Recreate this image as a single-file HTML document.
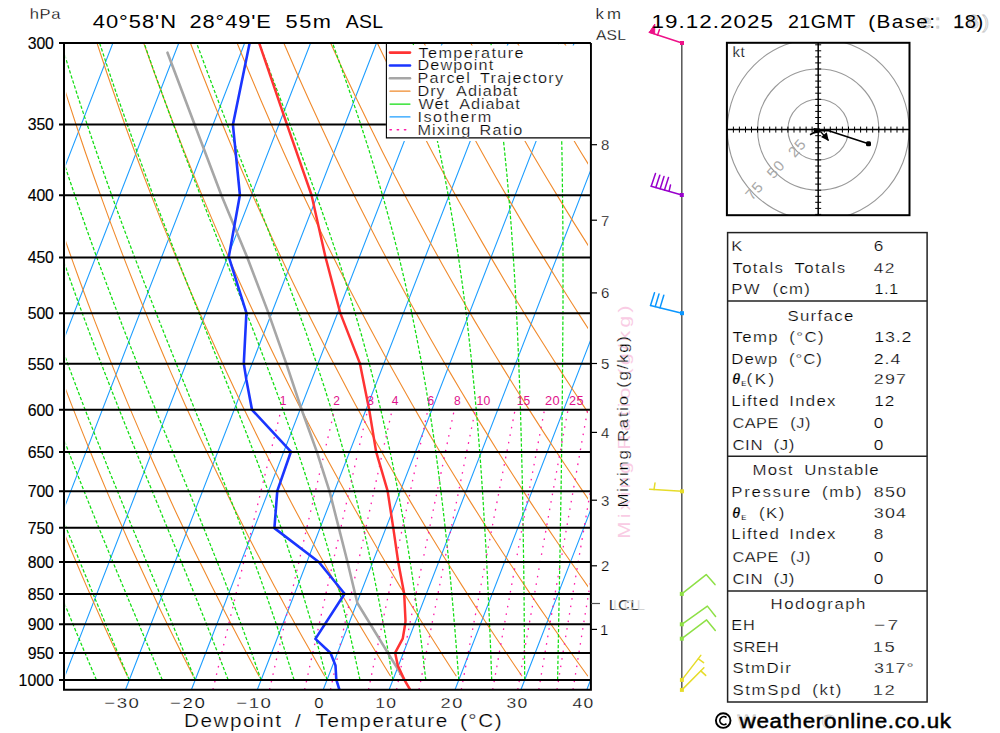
<!DOCTYPE html>
<html><head><meta charset="utf-8"><style>
html,body{margin:0;padding:0;background:#fff;width:1000px;height:733px;overflow:hidden}
svg{display:block}
text{font-family:"Liberation Sans",sans-serif;stroke:#fff;stroke-width:0.25px}
text.b{stroke:#000;stroke-width:0.15px}
text.n{stroke:none}
text.c{stroke:#000;stroke-width:0.45px}
text.g{stroke:#c6c6c6;stroke-width:0.8px}
</style></head><body>
<svg width="1000" height="733" viewBox="0 0 1000 733">
<defs><clipPath id="hc"><rect x="727" y="43" width="182.5" height="172.2"/></clipPath></defs>
<defs><clipPath id="pc"><rect x="64.0" y="43.0" width="526.9" height="646.7"/></clipPath>
<clipPath id="pd"><rect x="66.2" y="43.0" width="521.8" height="646.7"/></clipPath>
<clipPath id="pb"><rect x="65.8" y="43.0" width="525.1" height="646.7"/></clipPath></defs>
<g clip-path="url(#pb)">
<path d="M-335.8,689.7 L-84.8,43.0 M-269.9,689.7 L-18.9,43.0 M-204.0,689.7 L47.0,43.0 M-138.1,689.7 L112.9,43.0 M-72.2,689.7 L178.8,43.0 M-6.3,689.7 L244.7,43.0 M59.6,689.7 L310.6,43.0 M125.5,689.7 L376.5,43.0 M191.4,689.7 L442.4,43.0 M257.3,689.7 L508.3,43.0 M323.2,689.7 L574.2,43.0 M389.1,689.7 L640.1,43.0 M455.0,689.7 L706.0,43.0 M520.9,689.7 L771.9,43.0 M586.8,689.7 L837.8,43.0 M652.7,689.7 L903.7,43.0" stroke="#1e9eff" stroke-width="1.1" fill="none"/>
<g clip-path="url(#pd)"><path d="M-69.8,676.3 L-73.2,667.0 L-76.6,657.5 L-80.1,647.8 L-83.6,638.0 L-87.1,628.0 L-90.7,617.8 L-94.2,607.4 L-97.8,596.7 L-101.5,585.9 L-105.1,574.8 L-108.8,563.5 L-112.5,552.0 L-116.3,540.2 L-120.1,528.1 L-123.9,515.8 L-127.7,503.1 L-131.6,490.1 L-135.5,476.8 L-139.5,463.2 L-143.4,449.2 L-147.4,434.9 L-151.5,420.1 L-155.6,404.9 L-159.7,389.2 L-163.8,373.1 L-168.0,356.5 L-172.3,339.3 L-176.5,321.6 L-180.8,303.2 L-185.1,284.2 L-189.5,264.4 L-193.9,243.9 L-198.3,222.6 L-202.8,200.4 L-207.3,177.2 L-211.8,153.0 L-216.4,127.5 L-220.9,100.8 L-225.5,72.7 L-230.1,43.0 M-4.0,676.3 L-7.8,667.0 L-11.5,657.5 L-15.3,647.8 L-19.2,638.0 L-23.0,628.0 L-26.9,617.8 L-30.9,607.4 L-34.8,596.7 L-38.8,585.9 L-42.9,574.8 L-46.9,563.5 L-51.0,552.0 L-55.2,540.2 L-59.4,528.1 L-63.6,515.8 L-67.8,503.1 L-72.1,490.1 L-76.5,476.8 L-80.8,463.2 L-85.3,449.2 L-89.7,434.9 L-94.2,420.1 L-98.8,404.9 L-103.4,389.2 L-108.0,373.1 L-112.7,356.5 L-117.4,339.3 L-122.2,321.6 L-127.0,303.2 L-131.9,284.2 L-136.8,264.4 L-141.8,243.9 L-146.9,222.6 L-151.9,200.4 L-157.1,177.2 L-162.2,153.0 L-167.5,127.5 L-172.7,100.8 L-178.0,72.7 L-183.4,43.0 M61.8,676.3 L57.7,667.0 L53.6,657.5 L49.4,647.8 L45.2,638.0 L41.0,628.0 L36.8,617.8 L32.5,607.4 L28.2,596.7 L23.8,585.9 L19.4,574.8 L14.9,563.5 L10.4,552.0 L5.9,540.2 L1.3,528.1 L-3.3,515.8 L-7.9,503.1 L-12.7,490.1 L-17.4,476.8 L-22.2,463.2 L-27.1,449.2 L-32.0,434.9 L-37.0,420.1 L-42.0,404.9 L-47.0,389.2 L-52.2,373.1 L-57.4,356.5 L-62.6,339.3 L-67.9,321.6 L-73.3,303.2 L-78.7,284.2 L-84.2,264.4 L-89.8,243.9 L-95.4,222.6 L-101.1,200.4 L-106.8,177.2 L-112.7,153.0 L-118.6,127.5 L-124.5,100.8 L-130.5,72.7 L-136.6,43.0 M127.5,676.3 L123.1,667.0 L118.7,657.5 L114.2,647.8 L109.7,638.0 L105.1,628.0 L100.5,617.8 L95.9,607.4 L91.2,596.7 L86.4,585.9 L81.6,574.8 L76.8,563.5 L71.9,552.0 L67.0,540.2 L62.1,528.1 L57.0,515.8 L52.0,503.1 L46.8,490.1 L41.6,476.8 L36.4,463.2 L31.1,449.2 L25.7,434.9 L20.3,420.1 L14.8,404.9 L9.3,389.2 L3.7,373.1 L-2.0,356.5 L-7.8,339.3 L-13.6,321.6 L-19.5,303.2 L-25.5,284.2 L-31.5,264.4 L-37.7,243.9 L-43.9,222.6 L-50.2,200.4 L-56.6,177.2 L-63.1,153.0 L-69.7,127.5 L-76.3,100.8 L-83.1,72.7 L-89.9,43.0 M193.3,676.3 L188.6,667.0 L183.8,657.5 L179.0,647.8 L174.1,638.0 L169.2,628.0 L164.2,617.8 L159.2,607.4 L154.2,596.7 L149.1,585.9 L143.9,574.8 L138.7,563.5 L133.4,552.0 L128.1,540.2 L122.8,528.1 L117.3,515.8 L111.9,503.1 L106.3,490.1 L100.7,476.8 L95.0,463.2 L89.3,449.2 L83.5,434.9 L77.6,420.1 L71.6,404.9 L65.6,389.2 L59.5,373.1 L53.3,356.5 L47.1,339.3 L40.7,321.6 L34.3,303.2 L27.7,284.2 L21.1,264.4 L14.4,243.9 L7.6,222.6 L0.7,200.4 L-6.4,177.2 L-13.5,153.0 L-20.8,127.5 L-28.1,100.8 L-35.6,72.7 L-43.2,43.0 M259.1,676.3 L254.0,667.0 L248.9,657.5 L243.7,647.8 L238.5,638.0 L233.3,628.0 L227.9,617.8 L222.6,607.4 L217.2,596.7 L211.7,585.9 L206.2,574.8 L200.6,563.5 L194.9,552.0 L189.2,540.2 L183.5,528.1 L177.6,515.8 L171.7,503.1 L165.8,490.1 L159.7,476.8 L153.6,463.2 L147.5,449.2 L141.2,434.9 L134.9,420.1 L128.4,404.9 L121.9,389.2 L115.3,373.1 L108.7,356.5 L101.9,339.3 L95.0,321.6 L88.0,303.2 L81.0,284.2 L73.8,264.4 L66.5,243.9 L59.1,222.6 L51.5,200.4 L43.9,177.2 L36.1,153.0 L28.1,127.5 L20.1,100.8 L11.9,72.7 L3.5,43.0 M324.8,676.3 L319.4,667.0 L314.0,657.5 L308.5,647.8 L302.9,638.0 L297.3,628.0 L291.7,617.8 L285.9,607.4 L280.2,596.7 L274.3,585.9 L268.4,574.8 L262.5,563.5 L256.4,552.0 L250.3,540.2 L244.2,528.1 L238.0,515.8 L231.6,503.1 L225.3,490.1 L218.8,476.8 L212.3,463.2 L205.6,449.2 L198.9,434.9 L192.1,420.1 L185.2,404.9 L178.3,389.2 L171.2,373.1 L164.0,356.5 L156.7,339.3 L149.3,321.6 L141.8,303.2 L134.2,284.2 L126.4,264.4 L118.5,243.9 L110.5,222.6 L102.4,200.4 L94.1,177.2 L85.6,153.0 L77.0,127.5 L68.3,100.8 L59.4,72.7 L50.2,43.0 M390.6,676.3 L384.9,667.0 L379.1,657.5 L373.3,647.8 L367.4,638.0 L361.4,628.0 L355.4,617.8 L349.3,607.4 L343.2,596.7 L337.0,585.9 L330.7,574.8 L324.4,563.5 L317.9,552.0 L311.5,540.2 L304.9,528.1 L298.3,515.8 L291.5,503.1 L284.7,490.1 L277.9,476.8 L270.9,463.2 L263.8,449.2 L256.7,434.9 L249.4,420.1 L242.0,404.9 L234.6,389.2 L227.0,373.1 L219.3,356.5 L211.5,339.3 L203.6,321.6 L195.6,303.2 L187.4,284.2 L179.1,264.4 L170.6,243.9 L162.0,222.6 L153.2,200.4 L144.3,177.2 L135.2,153.0 L125.9,127.5 L116.5,100.8 L106.8,72.7 L97.0,43.0 M456.4,676.3 L450.3,667.0 L444.2,657.5 L438.0,647.8 L431.8,638.0 L425.5,628.0 L419.1,617.8 L412.7,607.4 L406.2,596.7 L399.6,585.9 L393.0,574.8 L386.2,563.5 L379.4,552.0 L372.6,540.2 L365.6,528.1 L358.6,515.8 L351.4,503.1 L344.2,490.1 L336.9,476.8 L329.5,463.2 L322.0,449.2 L314.4,434.9 L306.7,420.1 L298.8,404.9 L290.9,389.2 L282.8,373.1 L274.7,356.5 L266.4,339.3 L257.9,321.6 L249.3,303.2 L240.6,284.2 L231.7,264.4 L222.7,243.9 L213.5,222.6 L204.1,200.4 L194.6,177.2 L184.8,153.0 L174.9,127.5 L164.7,100.8 L154.3,72.7 L143.7,43.0 M522.1,676.3 L515.7,667.0 L509.3,657.5 L502.8,647.8 L496.2,638.0 L489.6,628.0 L482.8,617.8 L476.0,607.4 L469.2,596.7 L462.2,585.9 L455.2,574.8 L448.1,563.5 L440.9,552.0 L433.7,540.2 L426.3,528.1 L418.9,515.8 L411.3,503.1 L403.7,490.1 L396.0,476.8 L388.1,463.2 L380.2,449.2 L372.1,434.9 L363.9,420.1 L355.6,404.9 L347.2,389.2 L338.7,373.1 L330.0,356.5 L321.2,339.3 L312.2,321.6 L303.1,303.2 L293.8,284.2 L284.4,264.4 L274.8,243.9 L265.0,222.6 L255.0,200.4 L244.8,177.2 L234.4,153.0 L223.8,127.5 L212.9,100.8 L201.8,72.7 L190.4,43.0 M587.9,676.3 L581.2,667.0 L574.4,657.5 L567.5,647.8 L560.6,638.0 L553.6,628.0 L546.6,617.8 L539.4,607.4 L532.2,596.7 L524.9,585.9 L517.5,574.8 L510.0,563.5 L502.4,552.0 L494.8,540.2 L487.0,528.1 L479.2,515.8 L471.2,503.1 L463.2,490.1 L455.0,476.8 L446.7,463.2 L438.4,449.2 L429.8,434.9 L421.2,420.1 L412.5,404.9 L403.6,389.2 L394.5,373.1 L385.3,356.5 L376.0,339.3 L366.5,321.6 L356.9,303.2 L347.0,284.2 L337.0,264.4 L326.8,243.9 L316.4,222.6 L305.8,200.4 L295.0,177.2 L284.0,153.0 L272.7,127.5 L261.1,100.8 L249.3,72.7 L237.1,43.0 M653.7,676.3 L646.6,667.0 L639.5,657.5 L632.3,647.8 L625.0,638.0 L617.7,628.0 L610.3,617.8 L602.8,607.4 L595.2,596.7 L587.5,585.9 L579.7,574.8 L571.9,563.5 L563.9,552.0 L555.9,540.2 L547.7,528.1 L539.5,515.8 L531.1,503.1 L522.7,490.1 L514.1,476.8 L505.4,463.2 L496.5,449.2 L487.6,434.9 L478.5,420.1 L469.3,404.9 L459.9,389.2 L450.4,373.1 L440.7,356.5 L430.8,339.3 L420.8,321.6 L410.6,303.2 L400.3,284.2 L389.7,264.4 L378.9,243.9 L367.9,222.6 L356.7,200.4 L345.2,177.2 L333.5,153.0 L321.6,127.5 L309.3,100.8 L296.7,72.7 L283.8,43.0 M719.4,676.3 L712.1,667.0 L704.6,657.5 L697.1,647.8 L689.5,638.0 L681.8,628.0 L674.0,617.8 L666.1,607.4 L658.2,596.7 L650.1,585.9 L642.0,574.8 L633.8,563.5 L625.4,552.0 L617.0,540.2 L608.4,528.1 L599.8,515.8 L591.0,503.1 L582.1,490.1 L573.1,476.8 L564.0,463.2 L554.7,449.2 L545.3,434.9 L535.8,420.1 L526.1,404.9 L516.2,389.2 L506.2,373.1 L496.0,356.5 L485.7,339.3 L475.1,321.6 L464.4,303.2 L453.5,284.2 L442.3,264.4 L431.0,243.9 L419.4,222.6 L407.6,200.4 L395.5,177.2 L383.1,153.0 L370.5,127.5 L357.5,100.8 L344.2,72.7 L330.6,43.0 M785.2,676.3 L777.5,667.0 L769.7,657.5 L761.8,647.8 L753.9,638.0 L745.9,628.0 L737.7,617.8 L729.5,607.4 L721.2,596.7 L712.8,585.9 L704.3,574.8 L695.7,563.5 L686.9,552.0 L678.1,540.2 L669.2,528.1 L660.1,515.8 L650.9,503.1 L641.6,490.1 L632.2,476.8 L622.6,463.2 L612.9,449.2 L603.0,434.9 L593.0,420.1 L582.9,404.9 L572.5,389.2 L562.0,373.1 L551.4,356.5 L540.5,339.3 L529.4,321.6 L518.2,303.2 L506.7,284.2 L495.0,264.4 L483.1,243.9 L470.9,222.6 L458.4,200.4 L445.7,177.2 L432.7,153.0 L419.4,127.5 L405.7,100.8 L391.7,72.7 L377.3,43.0 M851.0,676.3 L842.9,667.0 L834.8,657.5 L826.6,647.8 L818.3,638.0 L809.9,628.0 L801.4,617.8 L792.9,607.4 L784.2,596.7 L775.4,585.9 L766.5,574.8 L757.5,563.5 L748.4,552.0 L739.2,540.2 L729.9,528.1 L720.4,515.8 L710.8,503.1 L701.1,490.1 L691.2,476.8 L681.2,463.2 L671.1,449.2 L660.8,434.9 L650.3,420.1 L639.7,404.9 L628.9,389.2 L617.9,373.1 L606.7,356.5 L595.3,339.3 L583.7,321.6 L571.9,303.2 L559.9,284.2 L547.7,264.4 L535.1,243.9 L522.4,222.6 L509.3,200.4 L495.9,177.2 L482.3,153.0 L468.3,127.5 L453.9,100.8 L439.2,72.7 L424.0,43.0 M916.7,676.3 L908.4,667.0 L899.9,657.5 L891.4,647.8 L882.7,638.0 L874.0,628.0 L865.2,617.8 L856.2,607.4 L847.2,596.7 L838.1,585.9 L828.8,574.8 L819.4,563.5 L809.9,552.0 L800.3,540.2 L790.6,528.1 L780.7,515.8 L770.7,503.1 L760.6,490.1 L750.3,476.8 L739.8,463.2 L729.2,449.2 L718.5,434.9 L707.6,420.1 L696.5,404.9 L685.2,389.2 L673.7,373.1 L662.0,356.5 L650.1,339.3 L638.0,321.6 L625.7,303.2 L613.1,284.2 L600.3,264.4 L587.2,243.9 L573.8,222.6 L560.2,200.4 L546.2,177.2 L531.8,153.0 L517.2,127.5 L502.1,100.8 L486.6,72.7 L470.7,43.0 M982.5,676.3 L973.8,667.0 L965.0,657.5 L956.1,647.8 L947.2,638.0 L938.1,628.0 L928.9,617.8 L919.6,607.4 L910.2,596.7 L900.7,585.9 L891.1,574.8 L881.3,563.5 L871.4,552.0 L861.4,540.2 L851.3,528.1 L841.0,515.8 L830.6,503.1 L820.0,490.1 L809.3,476.8 L798.5,463.2 L787.4,449.2 L776.2,434.9 L764.8,420.1 L753.3,404.9 L741.5,389.2 L729.5,373.1 L717.4,356.5 L705.0,339.3 L692.3,321.6 L679.5,303.2 L666.4,284.2 L653.0,264.4 L639.3,243.9 L625.3,222.6 L611.0,200.4 L596.4,177.2 L581.4,153.0 L566.1,127.5 L550.3,100.8 L534.1,72.7 L517.4,43.0 M1048.3,676.3 L1039.3,667.0 L1030.1,657.5 L1020.9,647.8 L1011.6,638.0 L1002.2,628.0 L992.6,617.8 L983.0,607.4 L973.2,596.7 L963.3,585.9 L953.3,574.8 L943.2,563.5 L932.9,552.0 L922.5,540.2 L912.0,528.1 L901.3,515.8 L890.5,503.1 L879.5,490.1 L868.4,476.8 L857.1,463.2 L845.6,449.2 L833.9,434.9 L822.1,420.1 L810.1,404.9 L797.8,389.2 L785.4,373.1 L772.7,356.5 L759.8,339.3 L746.6,321.6 L733.2,303.2 L719.6,284.2 L705.6,264.4 L691.4,243.9 L676.8,222.6 L661.9,200.4 L646.6,177.2 L631.0,153.0 L615.0,127.5 L598.5,100.8 L581.6,72.7 L564.2,43.0 M1114.0,676.3 L1104.7,667.0 L1095.2,657.5 L1085.7,647.8 L1076.0,638.0 L1066.2,628.0 L1056.3,617.8 L1046.3,607.4 L1036.2,596.7 L1026.0,585.9 L1015.6,574.8 L1005.1,563.5 L994.4,552.0 L983.6,540.2 L972.7,528.1 L961.6,515.8 L950.4,503.1 L939.0,490.1 L927.4,476.8 L915.7,463.2 L903.8,449.2 L891.7,434.9 L879.4,420.1 L866.9,404.9 L854.2,389.2 L841.2,373.1 L828.0,356.5 L814.6,339.3 L800.9,321.6 L787.0,303.2 L772.8,284.2 L758.3,264.4 L743.4,243.9 L728.3,222.6 L712.8,200.4 L696.9,177.2 L680.6,153.0 L663.9,127.5 L646.7,100.8 L629.1,72.7 L610.9,43.0 M1179.8,676.3 L1170.1,667.0 L1160.3,657.5 L1150.4,647.8 L1140.4,638.0 L1130.3,628.0 L1120.1,617.8 L1109.7,607.4 L1099.2,596.7 L1088.6,585.9 L1077.8,574.8 L1067.0,563.5 L1055.9,552.0 L1044.8,540.2 L1033.4,528.1 L1021.9,515.8 L1010.3,503.1 L998.5,490.1 L986.5,476.8 L974.3,463.2 L962.0,449.2 L949.4,434.9 L936.6,420.1 L923.7,404.9 L910.5,389.2 L897.0,373.1 L883.4,356.5 L869.4,339.3 L855.3,321.6 L840.8,303.2 L826.0,284.2 L810.9,264.4 L795.5,243.9 L779.7,222.6 L763.6,200.4 L747.1,177.2 L730.2,153.0 L712.8,127.5 L694.9,100.8 L676.5,72.7 L657.6,43.0 M1245.6,676.3 L1235.6,667.0 L1225.4,657.5 L1215.2,647.8 L1204.9,638.0 L1194.4,628.0 L1183.8,617.8 L1173.1,607.4 L1162.2,596.7 L1151.2,585.9 L1140.1,574.8 L1128.8,563.5 L1117.4,552.0 L1105.9,540.2 L1094.1,528.1 L1082.2,515.8 L1070.2,503.1 L1058.0,490.1 L1045.5,476.8 L1032.9,463.2 L1020.1,449.2 L1007.1,434.9 L993.9,420.1 L980.5,404.9 L966.8,389.2 L952.9,373.1 L938.7,356.5 L924.3,339.3 L909.6,321.6 L894.5,303.2 L879.2,284.2 L863.6,264.4 L847.6,243.9 L831.2,222.6 L814.5,200.4 L797.3,177.2 L779.7,153.0 L761.7,127.5 L743.1,100.8 L724.0,72.7 L704.3,43.0 M1311.4,676.3 L1301.0,667.0 L1290.5,657.5 L1280.0,647.8 L1269.3,638.0 L1258.5,628.0 L1247.5,617.8 L1236.4,607.4 L1225.2,596.7 L1213.9,585.9 L1202.4,574.8 L1190.7,563.5 L1178.9,552.0 L1167.0,540.2 L1154.8,528.1 L1142.6,515.8 L1130.1,503.1 L1117.4,490.1 L1104.6,476.8 L1091.6,463.2 L1078.3,449.2 L1064.9,434.9 L1051.2,420.1 L1037.3,404.9 L1023.1,389.2 L1008.7,373.1 L994.0,356.5 L979.1,339.3 L963.9,321.6 L948.3,303.2 L932.4,284.2 L916.2,264.4 L899.7,243.9 L882.7,222.6 L865.3,200.4 L847.6,177.2 L829.3,153.0 L810.6,127.5 L791.3,100.8 L771.5,72.7 L751.0,43.0 M1377.1,676.3 L1366.4,667.0 L1355.6,657.5 L1344.7,647.8 L1333.7,638.0 L1322.5,628.0 L1311.2,617.8 L1299.8,607.4 L1288.2,596.7 L1276.5,585.9 L1264.6,574.8 L1252.6,563.5 L1240.4,552.0 L1228.1,540.2 L1215.6,528.1 L1202.9,515.8 L1190.0,503.1 L1176.9,490.1 L1163.7,476.8 L1150.2,463.2 L1136.5,449.2 L1122.6,434.9 L1108.5,420.1 L1094.1,404.9 L1079.4,389.2 L1064.6,373.1 L1049.4,356.5 L1033.9,339.3 L1018.2,321.6 L1002.1,303.2 L985.7,284.2 L968.9,264.4 L951.7,243.9 L934.2,222.6 L916.2,200.4 L897.8,177.2 L878.9,153.0 L859.5,127.5 L839.5,100.8 L819.0,72.7 L797.8,43.0 M1442.9,676.3 L1431.9,667.0 L1420.8,657.5 L1409.5,647.8 L1398.1,638.0 L1386.6,628.0 L1375.0,617.8 L1363.2,607.4 L1351.2,596.7 L1339.1,585.9 L1326.9,574.8 L1314.5,563.5 L1301.9,552.0 L1289.2,540.2 L1276.3,528.1 L1263.2,515.8 L1249.9,503.1 L1236.4,490.1 L1222.7,476.8 L1208.8,463.2 L1194.7,449.2 L1180.3,434.9 L1165.7,420.1 L1150.9,404.9 L1135.8,389.2 L1120.4,373.1 L1104.7,356.5 L1088.8,339.3 L1072.5,321.6 L1055.8,303.2 L1038.9,284.2 L1021.5,264.4 L1003.8,243.9 L985.7,222.6 L967.1,200.4 L948.0,177.2 L928.5,153.0 L908.4,127.5 L887.7,100.8 L866.4,72.7 L844.5,43.0 M1508.7,676.3 L1497.3,667.0 L1485.9,657.5 L1474.3,647.8 L1462.5,638.0 L1450.7,628.0 L1438.7,617.8 L1426.5,607.4 L1414.2,596.7 L1401.8,585.9 L1389.2,574.8 L1376.4,563.5 L1363.4,552.0 L1350.3,540.2 L1337.0,528.1 L1323.5,515.8 L1309.8,503.1 L1295.9,490.1 L1281.8,476.8 L1267.4,463.2 L1252.9,449.2 L1238.1,434.9 L1223.0,420.1 L1207.7,404.9 L1192.1,389.2 L1176.2,373.1 L1160.1,356.5 L1143.6,339.3 L1126.8,321.6 L1109.6,303.2 L1092.1,284.2 L1074.2,264.4 L1055.9,243.9 L1037.1,222.6 L1017.9,200.4 L998.3,177.2 L978.0,153.0 L957.3,127.5 L935.9,100.8 L913.9,72.7 L891.2,43.0 M1574.4,676.3 L1562.8,667.0 L1551.0,657.5 L1539.0,647.8 L1527.0,638.0 L1514.8,628.0 L1502.4,617.8 L1489.9,607.4 L1477.2,596.7 L1464.4,585.9 L1451.4,574.8 L1438.3,563.5 L1424.9,552.0 L1411.4,540.2 L1397.7,528.1 L1383.8,515.8 L1369.7,503.1 L1355.4,490.1 L1340.8,476.8 L1326.0,463.2 L1311.0,449.2 L1295.8,434.9 L1280.3,420.1 L1264.5,404.9 L1248.4,389.2 L1232.1,373.1 L1215.4,356.5 L1198.4,339.3 L1181.1,321.6 L1163.4,303.2 L1145.3,284.2 L1126.8,264.4 L1108.0,243.9 L1088.6,222.6 L1068.8,200.4 L1048.5,177.2 L1027.6,153.0 L1006.2,127.5 L984.1,100.8 L961.4,72.7 L937.9,43.0" stroke="#f08a2c" stroke-width="1.1" fill="none"/></g>
<path d="M-134.3,680.0 L-143.0,653.5 L-151.5,626.9 L-159.7,600.4 L-167.6,573.8 L-175.3,547.3 L-182.7,520.8 L-189.8,494.2 L-196.7,467.7 L-203.4,441.1 L-209.9,414.6 L-216.0,388.0 L-222.0,361.5 L-227.7,335.0 L-233.2,308.4 L-238.5,281.9 L-243.6,255.3 L-248.4,228.8 L-253.0,202.2 L-257.4,175.7 L-261.6,149.2 L-265.6,122.6 L-269.4,96.1 L-273.0,69.5 L-276.4,43.0 M-101.4,680.0 L-110.5,653.5 L-119.4,626.9 L-128.1,600.4 L-136.4,573.8 L-144.5,547.3 L-152.4,520.8 L-160.0,494.2 L-167.3,467.7 L-174.4,441.1 L-181.3,414.6 L-187.9,388.0 L-194.2,361.5 L-200.3,335.0 L-206.2,308.4 L-211.9,281.9 L-217.3,255.3 L-222.5,228.8 L-227.5,202.2 L-232.3,175.7 L-236.9,149.2 L-241.2,122.6 L-245.3,96.1 L-249.3,69.5 L-253.0,43.0 M-68.4,680.0 L-78.0,653.5 L-87.4,626.9 L-96.4,600.4 L-105.2,573.8 L-113.8,547.3 L-122.1,520.8 L-130.1,494.2 L-137.8,467.7 L-145.4,441.1 L-152.6,414.6 L-159.6,388.0 L-166.4,361.5 L-172.9,335.0 L-179.2,308.4 L-185.2,281.9 L-191.0,255.3 L-196.6,228.8 L-202.0,202.2 L-207.1,175.7 L-212.0,149.2 L-216.7,122.6 L-221.2,96.1 L-225.5,69.5 L-229.6,43.0 M-35.5,680.0 L-45.5,653.5 L-55.2,626.9 L-64.8,600.4 L-74.0,573.8 L-83.0,547.3 L-91.7,520.8 L-100.1,494.2 L-108.3,467.7 L-116.2,441.1 L-123.9,414.6 L-131.3,388.0 L-138.5,361.5 L-145.4,335.0 L-152.1,308.4 L-158.5,281.9 L-164.7,255.3 L-170.6,228.8 L-176.4,202.2 L-181.9,175.7 L-187.1,149.2 L-192.2,122.6 L-197.0,96.1 L-201.6,69.5 L-206.1,43.0 M-2.5,680.0 L-12.9,653.5 L-23.1,626.9 L-33.0,600.4 L-42.7,573.8 L-52.1,547.3 L-61.2,520.8 L-70.1,494.2 L-78.7,467.7 L-87.0,441.1 L-95.1,414.6 L-102.9,388.0 L-110.5,361.5 L-117.8,335.0 L-124.8,308.4 L-131.6,281.9 L-138.2,255.3 L-144.6,228.8 L-150.7,202.2 L-156.5,175.7 L-162.2,149.2 L-167.6,122.6 L-172.7,96.1 L-177.7,69.5 L-182.5,43.0 M30.4,680.0 L19.7,653.5 L9.2,626.9 L-1.1,600.4 L-11.2,573.8 L-21.0,547.3 L-30.5,520.8 L-39.8,494.2 L-48.8,467.7 L-57.6,441.1 L-66.1,414.6 L-74.3,388.0 L-82.3,361.5 L-90.0,335.0 L-97.4,308.4 L-104.6,281.9 L-111.6,255.3 L-118.3,228.8 L-124.8,202.2 L-131.0,175.7 L-137.0,149.2 L-142.8,122.6 L-148.3,96.1 L-153.6,69.5 L-158.7,43.0 M63.4,680.0 L52.4,653.5 L41.5,626.9 L30.9,600.4 L20.5,573.8 L10.3,547.3 L0.4,520.8 L-9.3,494.2 L-18.7,467.7 L-27.9,441.1 L-36.8,414.6 L-45.4,388.0 L-53.8,361.5 L-61.9,335.0 L-69.7,308.4 L-77.3,281.9 L-84.7,255.3 L-91.8,228.8 L-98.6,202.2 L-105.2,175.7 L-111.6,149.2 L-117.7,122.6 L-123.6,96.1 L-129.3,69.5 L-134.7,43.0 M96.4,680.0 L85.2,653.5 L74.1,626.9 L63.2,600.4 L52.4,573.8 L41.9,547.3 L31.6,520.8 L21.6,494.2 L11.8,467.7 L2.2,441.1 L-7.1,414.6 L-16.1,388.0 L-24.9,361.5 L-33.4,335.0 L-41.6,308.4 L-49.6,281.9 L-57.4,255.3 L-64.8,228.8 L-72.1,202.2 L-79.0,175.7 L-85.8,149.2 L-92.3,122.6 L-98.5,96.1 L-104.5,69.5 L-110.3,43.0 M129.3,680.0 L118.1,653.5 L106.9,626.9 L95.8,600.4 L84.8,573.8 L74.0,547.3 L63.4,520.8 L53.0,494.2 L42.9,467.7 L32.9,441.1 L23.3,414.6 L13.8,388.0 L4.7,361.5 L-4.2,335.0 L-12.9,308.4 L-21.3,281.9 L-29.4,255.3 L-37.3,228.8 L-44.9,202.2 L-52.3,175.7 L-59.4,149.2 L-66.2,122.6 L-72.9,96.1 L-79.3,69.5 L-85.4,43.0 M162.3,680.0 L151.2,653.5 L140.0,626.9 L128.9,600.4 L117.8,573.8 L106.8,547.3 L96.0,520.8 L85.3,494.2 L74.8,467.7 L64.5,441.1 L54.5,414.6 L44.7,388.0 L35.1,361.5 L25.8,335.0 L16.8,308.4 L8.0,281.9 L-0.6,255.3 L-8.8,228.8 L-16.9,202.2 L-24.6,175.7 L-32.1,149.2 L-39.4,122.6 L-46.4,96.1 L-53.1,69.5 L-59.7,43.0 M195.2,680.0 L184.5,653.5 L173.6,626.9 L162.6,600.4 L151.5,573.8 L140.5,547.3 L129.5,520.8 L118.7,494.2 L107.9,467.7 L97.4,441.1 L87.0,414.6 L76.8,388.0 L66.9,361.5 L57.2,335.0 L47.7,308.4 L38.5,281.9 L29.6,255.3 L20.9,228.8 L12.5,202.2 L4.3,175.7 L-3.6,149.2 L-11.3,122.6 L-18.7,96.1 L-25.8,69.5 L-32.7,43.0 M228.2,680.0 L218.0,653.5 L207.6,626.9 L197.0,600.4 L186.2,573.8 L175.3,547.3 L164.4,520.8 L153.5,494.2 L142.6,467.7 L131.8,441.1 L121.2,414.6 L110.7,388.0 L100.4,361.5 L90.3,335.0 L80.5,308.4 L70.9,281.9 L61.5,255.3 L52.4,228.8 L43.6,202.2 L35.0,175.7 L26.7,149.2 L18.6,122.6 L10.8,96.1 L3.2,69.5 L-4.1,43.0 M261.1,680.0 L251.8,653.5 L242.1,626.9 L232.2,600.4 L221.9,573.8 L211.4,547.3 L200.8,520.8 L190.0,494.2 L179.2,467.7 L168.4,441.1 L157.6,414.6 L146.9,388.0 L136.4,361.5 L126.0,335.0 L115.8,308.4 L105.8,281.9 L96.0,255.3 L86.5,228.8 L77.2,202.2 L68.2,175.7 L59.4,149.2 L50.9,122.6 L42.6,96.1 L34.6,69.5 L26.8,43.0 M294.1,680.0 L285.8,653.5 L277.2,626.9 L268.1,600.4 L258.7,573.8 L249.0,547.3 L238.9,520.8 L228.6,494.2 L218.1,467.7 L207.5,441.1 L196.8,414.6 L186.1,388.0 L175.4,361.5 L164.8,335.0 L154.3,308.4 L144.0,281.9 L133.9,255.3 L123.9,228.8 L114.2,202.2 L104.7,175.7 L95.5,149.2 L86.5,122.6 L77.7,96.1 L69.2,69.5 L61.0,43.0 M327.0,680.0 L320.0,653.5 L312.6,626.9 L304.7,600.4 L296.5,573.8 L287.8,547.3 L278.7,520.8 L269.3,494.2 L259.5,467.7 L249.5,441.1 L239.2,414.6 L228.8,388.0 L218.3,361.5 L207.7,335.0 L197.1,308.4 L186.6,281.9 L176.1,255.3 L165.9,228.8 L155.7,202.2 L145.8,175.7 L136.1,149.2 L126.6,122.6 L117.3,96.1 L108.3,69.5 L99.6,43.0 M360.0,680.0 L354.3,653.5 L348.2,626.9 L341.7,600.4 L334.9,573.8 L327.6,547.3 L319.8,520.8 L311.7,494.2 L303.1,467.7 L294.2,441.1 L284.8,414.6 L275.2,388.0 L265.2,361.5 L255.1,335.0 L244.8,308.4 L234.4,281.9 L223.9,255.3 L213.5,228.8 L203.1,202.2 L192.8,175.7 L182.7,149.2 L172.7,122.6 L163.0,96.1 L153.4,69.5 L144.1,43.0 M392.9,680.0 L388.5,653.5 L383.9,626.9 L378.9,600.4 L373.5,573.8 L367.8,547.3 L361.7,520.8 L355.1,494.2 L348.1,467.7 L340.7,441.1 L332.9,414.6 L324.6,388.0 L315.9,361.5 L306.9,335.0 L297.4,308.4 L287.7,281.9 L277.8,255.3 L267.7,228.8 L257.4,202.2 L247.1,175.7 L236.8,149.2 L226.6,122.6 L216.4,96.1 L206.4,69.5 L196.6,43.0 M425.8,680.0 L422.7,653.5 L419.4,626.9 L415.8,600.4 L412.0,573.8 L407.9,547.3 L403.4,520.8 L398.6,494.2 L393.4,467.7 L387.9,441.1 L381.9,414.6 L375.6,388.0 L368.7,361.5 L361.5,335.0 L353.7,308.4 L345.6,281.9 L337.0,255.3 L328.1,228.8 L318.8,202.2 L309.2,175.7 L299.4,149.2 L289.4,122.6 L279.3,96.1 L269.2,69.5 L259.1,43.0 M458.8,680.0 L456.8,653.5 L454.7,626.9 L452.4,600.4 L450.0,573.8 L447.3,547.3 L444.4,520.8 L441.3,494.2 L437.9,467.7 L434.3,441.1 L430.3,414.6 L426.0,388.0 L421.3,361.5 L416.2,335.0 L410.8,308.4 L404.9,281.9 L398.6,255.3 L391.8,228.8 L384.5,202.2 L376.8,175.7 L368.7,149.2 L360.1,122.6 L351.2,96.1 L342.0,69.5 L332.5,43.0 M491.7,680.0 L490.8,653.5 L489.7,626.9 L488.5,600.4 L487.3,573.8 L485.9,547.3 L484.3,520.8 L482.7,494.2 L480.9,467.7 L478.9,441.1 L476.7,414.6 L474.2,388.0 L471.6,361.5 L468.7,335.0 L465.5,308.4 L462.0,281.9 L458.2,255.3 L454.1,228.8 L449.5,202.2 L444.6,175.7 L439.2,149.2 L433.4,122.6 L427.1,96.1 L420.3,69.5 L413.0,43.0 M524.7,680.0 L524.5,653.5 L524.3,626.9 L524.1,600.4 L523.8,573.8 L523.4,547.3 L523.0,520.8 L522.6,494.2 L522.0,467.7 L521.3,441.1 L520.6,414.6 L519.7,388.0 L518.7,361.5 L517.6,335.0 L516.3,308.4 L514.9,281.9 L513.2,255.3 L511.4,228.8 L509.3,202.2 L507.0,175.7 L504.4,149.2 L501.5,122.6 L498.4,96.1 L494.8,69.5 L490.9,43.0 M557.6,680.0 L558.1,653.5 L558.6,626.9 L559.1,600.4 L559.6,573.8 L560.1,547.3 L560.5,520.8 L561.0,494.2 L561.4,467.7 L561.8,441.1 L562.1,414.6 L562.4,388.0 L562.6,361.5 L562.8,335.0 L563.0,308.4 L563.0,281.9 L563.0,255.3 L562.9,228.8 L562.6,202.2 L562.3,175.7 L561.9,149.2 L561.3,122.6 L560.5,96.1 L559.6,69.5 L558.5,43.0 M590.6,680.0 L591.6,653.5 L592.6,626.9 L593.7,600.4 L594.8,573.8 L595.9,547.3 L597.0,520.8 L598.1,494.2 L599.2,467.7 L600.4,441.1 L601.5,414.6 L602.6,388.0 L603.8,361.5 L604.9,335.0 L606.0,308.4 L607.1,281.9 L608.2,255.3 L609.3,228.8 L610.3,202.2 L611.3,175.7 L612.3,149.2 L613.2,122.6 L614.0,96.1 L614.8,69.5 L615.6,43.0" stroke="#11dd11" stroke-width="1.25" stroke-dasharray="3.4,1.9" fill="none"/>
<path d="M212.9,689.7 L218.2,667.5 L223.8,644.3 L229.7,620.1 L235.8,594.7 L242.3,568.0 L249.1,539.9 L256.3,510.3 L264.0,478.8 L272.3,445.4 L281.1,409.7 M269.5,689.7 L274.6,667.5 L279.9,644.3 L285.4,620.1 L291.3,594.7 L297.5,568.0 L304.0,539.9 L310.9,510.3 L318.3,478.8 L326.1,445.4 L334.6,409.7 M304.6,689.7 L309.5,667.5 L314.7,644.3 L320.1,620.1 L325.7,594.7 L331.7,568.0 L338.1,539.9 L344.8,510.3 L351.9,478.8 L359.5,445.4 L367.7,409.7 M330.5,689.7 L335.3,667.5 L340.3,644.3 L345.6,620.1 L351.1,594.7 L357.0,568.0 L363.2,539.9 L369.7,510.3 L376.7,478.8 L384.1,445.4 L392.2,409.7 M368.5,689.7 L373.1,667.5 L378.0,644.3 L383.0,620.1 L388.4,594.7 L394.0,568.0 L399.9,539.9 L406.3,510.3 L413.0,478.8 L420.2,445.4 L427.9,409.7 M396.6,689.7 L401.0,667.5 L405.7,644.3 L410.6,620.1 L415.8,594.7 L421.3,568.0 L427.1,539.9 L433.2,510.3 L439.8,478.8 L446.8,445.4 L454.3,409.7 M419.0,689.7 L423.4,667.5 L427.9,644.3 L432.7,620.1 L437.8,594.7 L443.1,568.0 L448.8,539.9 L454.8,510.3 L461.2,478.8 L468.0,445.4 L475.4,409.7 M461.3,689.7 L465.5,667.5 L469.8,644.3 L474.4,620.1 L479.2,594.7 L484.3,568.0 L489.7,539.9 L495.4,510.3 L501.5,478.8 L508.1,445.4 L515.1,409.7 M492.7,689.7 L496.7,667.5 L500.8,644.3 L505.2,620.1 L509.9,594.7 L514.8,568.0 L519.9,539.9 L525.5,510.3 L531.4,478.8 L537.7,445.4 L544.5,409.7 M517.8,689.7 L521.6,667.5 L525.6,644.3 L529.9,620.1 L534.4,594.7 L539.1,568.0 L544.2,539.9 L549.5,510.3 L555.3,478.8 L561.4,445.4 L568.0,409.7 M538.8,689.7 L542.5,667.5 L546.5,644.3 L550.6,620.1 L554.9,594.7 L559.6,568.0 L564.5,539.9 L569.7,510.3 L575.3,478.8 L581.2,445.4 L587.7,409.7 M557.0,689.7 L560.6,667.5 L564.4,644.3 L568.5,620.1 L572.7,594.7 L577.2,568.0 L582.0,539.9 L587.1,510.3 L592.5,478.8 L598.4,445.4 L604.7,409.7 M573.0,689.7 L576.6,667.5 L580.3,644.3 L584.2,620.1 L588.4,594.7 L592.8,568.0 L597.5,539.9 L602.4,510.3 L607.8,478.8 L613.5,445.4 L619.7,409.7" stroke="#ff1aa8" stroke-width="1.3" stroke-dasharray="1.6,6" fill="none"/>
</g>
<g clip-path="url(#pc)" fill="none" stroke-linejoin="round" stroke-linecap="round">
<path d="M167.5,52.7 L194.7,124.7 L221.3,195.0 L247.0,256.8 L268.4,312.9 L286.2,363.4 L301.6,409.5 L316.8,451.6 L329.4,490.9 L338.9,528.1 L347.5,562.0 L355.1,593.8 L357.5,603.2 L404.4,679.9" stroke="#a6a6a6" stroke-width="2.6"/>
<path d="M249.7,42.8 L232.9,124.7 L239.9,195.0 L228.8,256.8 L246.4,312.9 L243.8,363.6 L246.3,379.4 L252.0,409.8 L290.9,451.7 L277.3,490.9 L274.4,528.1 L318.8,562.0 L344.6,593.8 L315.4,638.9 L330.5,653.0 L335.5,665.5 L336.3,679.7 L339.4,689.7" stroke="#1a35ff" stroke-width="2.6"/>
<path d="M259.1,42.8 L287.0,124.7 L311.5,195.0 L325.4,256.8 L340.2,312.9 L359.9,363.4 L369.2,409.7 L376.1,451.6 L387.6,490.9 L393.3,528.1 L398.2,562.0 L404.2,593.7 L405.5,620.8 L405.2,624.0 L402.7,638.7 L395.1,652.8 L397.9,665.9 L404.4,679.8 L410.1,689.7" stroke="#ff3333" stroke-width="2.5"/>
</g>
<path d="M59,43.0 H590.9 M59,124.6 H590.9 M59,195.2 H590.9 M59,257.5 H590.9 M59,313.3 H590.9 M59,363.7 H590.9 M59,409.7 H590.9 M59,452.1 H590.9 M59,491.3 H590.9 M59,527.8 H590.9 M59,561.9 H590.9 M59,594.0 H590.9 M59,624.3 H590.9 M59,652.9 H590.9 M59,680.0 H590.9" stroke="#000" stroke-width="2"/>
<path d="M64.0,43.0 V689.7 H590.9 V43.0" stroke="#000" stroke-width="2" fill="none"/>
<rect x="385.9" y="45.5" width="204.1" height="95.5" fill="#fff"/>
<path d="M386.4,43 V137.9 H591" stroke="#000" stroke-width="1.1" fill="none"/>
<path d="M390,52.6 H410" stroke="#ff3333" stroke-width="2.6"  stroke-linecap="round"/>
<path d="M390,65.5 H410" stroke="#1a35ff" stroke-width="2.6"  stroke-linecap="round"/>
<path d="M390,78.3 H410" stroke="#a6a6a6" stroke-width="2.6"  stroke-linecap="round"/>
<path d="M390,91.2 H410" stroke="#f08a2c" stroke-width="1.2"  stroke-linecap="round"/>
<path d="M390,104.1 H410" stroke="#11dd11" stroke-width="1.2"  stroke-linecap="round"/>
<path d="M390,116.9 H410" stroke="#1e9eff" stroke-width="1.2"  stroke-linecap="round"/>
<path d="M390,129.8 H410" stroke="#ff1aa8" stroke-width="1.4" stroke-dasharray="1.4,5.8" stroke-linecap="round"/>
<path d="M681.8,42.8 V689.9" stroke="#555" stroke-width="1.5"/>
<path d="M682.0,43.0 L649.3,32.3" stroke="#ee1188" stroke-width="1.5" fill="none" stroke-linecap="round" stroke-linejoin="round"/>
<path d="M649.3,32.3 L654.8,24 L654.6,34 Z" fill="#ee1188" stroke="#ee1188" stroke-width="1"/>
<path d="M657.5,35.3 L659.5,29.5" stroke="#ee1188" stroke-width="1.5" fill="none" stroke-linecap="round" stroke-linejoin="round"/>
<rect x="680.0" y="41.0" width="4" height="4" fill="#ee1188"/>
<path d="M681.8,195.0 L651.2,186.2" stroke="#9900cc" stroke-width="1.5" fill="none" stroke-linecap="round" stroke-linejoin="round"/>
<path d="M651.2,186.2 L655.5,173.5" stroke="#9900cc" stroke-width="1.5" fill="none" stroke-linecap="round" stroke-linejoin="round"/>
<path d="M655.8,187.5 L659.8,175.2" stroke="#9900cc" stroke-width="1.5" fill="none" stroke-linecap="round" stroke-linejoin="round"/>
<path d="M660.2,188.8 L664.0,176.5" stroke="#9900cc" stroke-width="1.5" fill="none" stroke-linecap="round" stroke-linejoin="round"/>
<path d="M664.5,190.0 L668.5,177.5" stroke="#9900cc" stroke-width="1.5" fill="none" stroke-linecap="round" stroke-linejoin="round"/>
<path d="M669.0,191.3 L670.5,185.0" stroke="#9900cc" stroke-width="1.5" fill="none" stroke-linecap="round" stroke-linejoin="round"/>
<rect x="679.8" y="193.0" width="4" height="4" fill="#9900cc"/>
<path d="M682.0,313.2 L650.5,305.4" stroke="#0a96ff" stroke-width="1.5" fill="none" stroke-linecap="round" stroke-linejoin="round"/>
<path d="M650.5,305.4 L654.5,292.8" stroke="#0a96ff" stroke-width="1.5" fill="none" stroke-linecap="round" stroke-linejoin="round"/>
<path d="M655.2,306.6 L659.0,294.0" stroke="#0a96ff" stroke-width="1.5" fill="none" stroke-linecap="round" stroke-linejoin="round"/>
<path d="M660.0,307.9 L663.8,295.2" stroke="#0a96ff" stroke-width="1.5" fill="none" stroke-linecap="round" stroke-linejoin="round"/>
<rect x="680.0" y="311.2" width="4" height="4" fill="#0a96ff"/>
<path d="M682.0,491.3 L649.6,489.3" stroke="#e6dc2a" stroke-width="1.5" fill="none" stroke-linecap="round" stroke-linejoin="round"/>
<path d="M654.0,489.6 L655.0,483.0" stroke="#e6dc2a" stroke-width="1.5" fill="none" stroke-linecap="round" stroke-linejoin="round"/>
<rect x="680.0" y="489.3" width="4" height="4" fill="#e6dc2a"/>
<path d="M681.8,593.9 L706.2,574.6 L715.0,584.6" stroke="#8ee046" stroke-width="1.5" fill="none" stroke-linecap="round" stroke-linejoin="round"/>
<rect x="679.8" y="591.9" width="4" height="4" fill="#8ee046"/>
<path d="M681.8,624.3 L707.4,606.1 L715.6,616.5" stroke="#8ee046" stroke-width="1.5" fill="none" stroke-linecap="round" stroke-linejoin="round"/>
<rect x="679.8" y="622.3" width="4" height="4" fill="#8ee046"/>
<path d="M681.8,638.7 L706.6,619.9 L715.3,630.5" stroke="#8ee046" stroke-width="1.5" fill="none" stroke-linecap="round" stroke-linejoin="round"/>
<rect x="679.8" y="636.7" width="4" height="4" fill="#8ee046"/>
<path d="M681.9,679.9 L700.8,655.4" stroke="#e6dc2a" stroke-width="1.5" fill="none" stroke-linecap="round" stroke-linejoin="round"/>
<path d="M698.4,658.9 L703.6,662.6" stroke="#e6dc2a" stroke-width="1.5" fill="none" stroke-linecap="round" stroke-linejoin="round"/>
<rect x="679.9" y="677.9" width="4" height="4" fill="#e6dc2a"/>
<path d="M681.9,689.9 L703.9,667.7" stroke="#e6dc2a" stroke-width="1.5" fill="none" stroke-linecap="round" stroke-linejoin="round"/>
<path d="M700.8,670.9 L705.7,675.4" stroke="#e6dc2a" stroke-width="1.5" fill="none" stroke-linecap="round" stroke-linejoin="round"/>
<rect x="679.9" y="687.9" width="4" height="4" fill="#e6dc2a"/>
<g clip-path="url(#hc)">
<circle cx="818.2" cy="129.6" r="30.3" fill="none" stroke="#999" stroke-width="1.1"/>
<circle cx="818.2" cy="129.6" r="60.6" fill="none" stroke="#999" stroke-width="1.1"/>
<circle cx="818.2" cy="129.6" r="90.9" fill="none" stroke="#999" stroke-width="1.1"/>
</g>
<rect x="726.9" y="42.8" width="182.6" height="172.4" fill="none" stroke="#000" stroke-width="2"/>
<path d="M727,129.6 H909.5 M818.2,42.8 V215.2" stroke="#000" stroke-width="1.5"/>
<path d="M733.4,126.6 V132.6 M815.2,44.8 H821.2 M739.4,126.6 V132.6 M815.2,50.8 H821.2 M745.5,126.6 V132.6 M815.2,56.9 H821.2 M751.5,126.6 V132.6 M815.2,62.9 H821.2 M757.6,126.6 V132.6 M815.2,69.0 H821.2 M763.7,126.6 V132.6 M815.2,75.1 H821.2 M769.7,126.6 V132.6 M815.2,81.1 H821.2 M775.8,126.6 V132.6 M815.2,87.2 H821.2 M781.8,126.6 V132.6 M815.2,93.2 H821.2 M787.9,126.6 V132.6 M815.2,99.3 H821.2 M794.0,126.6 V132.6 M815.2,105.4 H821.2 M800.0,126.6 V132.6 M815.2,111.4 H821.2 M806.1,126.6 V132.6 M815.2,117.5 H821.2 M812.1,126.6 V132.6 M815.2,123.5 H821.2 M824.3,126.6 V132.6 M815.2,135.7 H821.2 M830.3,126.6 V132.6 M815.2,141.7 H821.2 M836.4,126.6 V132.6 M815.2,147.8 H821.2 M842.4,126.6 V132.6 M815.2,153.8 H821.2 M848.5,126.6 V132.6 M815.2,159.9 H821.2 M854.6,126.6 V132.6 M815.2,166.0 H821.2 M860.6,126.6 V132.6 M815.2,172.0 H821.2 M866.7,126.6 V132.6 M815.2,178.1 H821.2 M872.7,126.6 V132.6 M815.2,184.1 H821.2 M878.8,126.6 V132.6 M815.2,190.2 H821.2 M884.9,126.6 V132.6 M815.2,196.3 H821.2 M890.9,126.6 V132.6 M815.2,202.3 H821.2 M897.0,126.6 V132.6 M815.2,208.4 H821.2 M903.0,126.6 V132.6 M815.2,214.4 H821.2" stroke="#000" stroke-width="1"/>
<text x="732.5" y="57" font-size="15" letter-spacing="0.5">kt</text>
<text transform="translate(801.1,151.2) rotate(-48)" font-size="15" fill="#a8a8a8" text-anchor="middle" letter-spacing="1" class="n">25</text>
<text transform="translate(779.7,172.6) rotate(-48)" font-size="15" fill="#a8a8a8" text-anchor="middle" letter-spacing="1" class="n">50</text>
<text transform="translate(758.3,194.0) rotate(-48)" font-size="15" fill="#a8a8a8" text-anchor="middle" letter-spacing="1" class="n">75</text>
<path d="M810,134.8 L816,131.5 L820,130.8 L828,130.4 L868.5,143.8" stroke="#000" stroke-width="1.6" fill="none" stroke-linejoin="round"/>
<rect x="866" y="141.3" width="5" height="5" rx="1.5" fill="#000"/>
<path d="M820.5,131.5 L828.5,140.5" stroke="#000" stroke-width="1.2"/>
<path d="M821,137 L826.8,132.2 L828.8,141 Z" fill="#000"/>
<path d="M813.5,128 L820,128.5 L820.5,132.5 L814,133.5 Z" fill="#000"/>
<rect x="727.6" y="232.6" width="199.5" height="469.4" fill="none" stroke="#222" stroke-width="1.5"/>
<path d="M727.6,301.0 H927.1" stroke="#222" stroke-width="1.5"/>
<path d="M727.6,456.3 H927.1" stroke="#222" stroke-width="1.5"/>
<path d="M727.6,590.9 H927.1" stroke="#222" stroke-width="1.5"/>
<text transform="translate(737.5,727.6)" font-size="19" fill="none" class="g">W</text><text transform="translate(821.5,727.6)" font-size="19" fill="none" class="g">O</text>
<text transform="translate(920.5,28.3) scale(1.05,1)" font-size="18.5" letter-spacing="3.6" fill="none" stroke="#c4c4c4" stroke-width="0.8" class="g">e:  18)</text>
<text transform="translate(92.75,28.20) scale(1.186,1)" font-size="18.5" letter-spacing="0.81" class="n">40°58'N</text>
<text transform="translate(189.50,28.20) scale(1.178,1)" font-size="18.5" letter-spacing="0.78" class="n">28°49'E</text>
<text transform="translate(285.50,28.20) scale(1.179,1)" font-size="18.5" letter-spacing="1.30" class="n">55m</text>
<text transform="translate(345.70,28.20) scale(1.050,1)" font-size="18.5" letter-spacing="0.37" class="n">ASL</text>
<text transform="translate(651.39,28.30) scale(1.212,1)" font-size="18.5" letter-spacing="0.87" class="n">19.12.2025</text>
<text transform="translate(787.90,28.30) scale(1.065,1)" font-size="18.5" letter-spacing="0.42" class="n">21GMT</text>
<text transform="translate(868.28,28.30) scale(1.120,1)" font-size="18.5" letter-spacing="1.23" class="n">(Base:</text>
<text transform="translate(952.91,28.30) scale(1.092,1)" font-size="18.5" letter-spacing="0.49" class="n">18)</text>
<text transform="translate(29.70,18.60) scale(1.103,1)" font-size="15" letter-spacing="0.56">hPa</text>
<text transform="translate(595.58,18.75) scale(1.120,1)" font-size="15" letter-spacing="2.66">km</text>
<text transform="translate(595.90,39.90) scale(1.042,1)" font-size="15" letter-spacing="0.25">ASL</text>
<text transform="translate(27.80,48.90)" font-size="15.8" letter-spacing="-0.19" class="b">300</text>
<text transform="translate(27.80,130.46)" font-size="15.8" letter-spacing="-0.19" class="b">350</text>
<text transform="translate(27.80,201.11)" font-size="15.8" letter-spacing="-0.19" class="b">400</text>
<text transform="translate(27.80,263.42)" font-size="15.8" letter-spacing="-0.19" class="b">450</text>
<text transform="translate(27.80,319.17)" font-size="15.8" letter-spacing="-0.19" class="b">500</text>
<text transform="translate(27.80,369.60)" font-size="15.8" letter-spacing="-0.19" class="b">550</text>
<text transform="translate(27.80,415.63)" font-size="15.8" letter-spacing="-0.19" class="b">600</text>
<text transform="translate(27.80,457.98)" font-size="15.8" letter-spacing="-0.19" class="b">650</text>
<text transform="translate(27.80,497.19)" font-size="15.8" letter-spacing="-0.19" class="b">700</text>
<text transform="translate(27.80,533.69)" font-size="15.8" letter-spacing="-0.19" class="b">750</text>
<text transform="translate(27.80,567.84)" font-size="15.8" letter-spacing="-0.19" class="b">800</text>
<text transform="translate(27.80,599.91)" font-size="15.8" letter-spacing="-0.19" class="b">850</text>
<text transform="translate(27.80,630.16)" font-size="15.8" letter-spacing="-0.19" class="b">900</text>
<text transform="translate(27.80,658.76)" font-size="15.8" letter-spacing="-0.19" class="b">950</text>
<text transform="translate(18.60,685.90)" font-size="15.8" class="b">1000</text>
<text transform="translate(104.30,708.20) scale(1.239,1)" font-size="15" letter-spacing="1.21">−30</text>
<text transform="translate(170.10,708.20) scale(1.244,1)" font-size="15" letter-spacing="1.23">−20</text>
<text transform="translate(236.30,708.20) scale(1.239,1)" font-size="15" letter-spacing="1.21">−10</text>
<text transform="translate(314.30,708.20) scale(1.112,1)" font-size="15">0</text>
<text transform="translate(375.13,708.20) scale(1.170,1)" font-size="15" letter-spacing="1.07">10</text>
<text transform="translate(440.40,708.20) scale(1.216,1)" font-size="15" letter-spacing="1.43">20</text>
<text transform="translate(506.40,708.20) scale(1.168,1)" font-size="15" letter-spacing="1.12">30</text>
<text transform="translate(572.40,708.20) scale(1.168,1)" font-size="15" letter-spacing="1.12">40</text>
<text transform="translate(183.88,727.00) scale(1.120,1)" font-size="18.5" letter-spacing="1.38">Dewpoint</text>
<text transform="translate(294.90,727.00) scale(1.120,1)" font-size="18.5" letter-spacing="1.38">/</text>
<text transform="translate(315.62,727.00) scale(1.120,1)" font-size="18.5" letter-spacing="1.38">Temperature</text>
<text transform="translate(459.91,727.00) scale(1.120,1)" font-size="18.5" letter-spacing="1.38">(°C)</text>
<text transform="translate(601.10,150.00)" font-size="15">8</text>
<text transform="translate(601.10,225.50)" font-size="15">7</text>
<text transform="translate(601.10,298.20)" font-size="15">6</text>
<text transform="translate(601.10,368.80)" font-size="15">5</text>
<text transform="translate(601.10,437.70)" font-size="15">4</text>
<text transform="translate(601.10,505.50)" font-size="15">3</text>
<text transform="translate(601.10,571.10)" font-size="15">2</text>
<text transform="translate(600.10,634.70)" font-size="15">1</text>
<text transform="translate(279.80,405.30)" font-size="12" fill="#e0128c" class="n">1</text>
<text transform="translate(333.20,405.30)" font-size="12" fill="#e0128c" class="n">2</text>
<text transform="translate(367.20,405.30)" font-size="12" fill="#e0128c" class="n">3</text>
<text transform="translate(391.70,405.30)" font-size="12" fill="#e0128c" class="n">4</text>
<text transform="translate(427.40,405.30)" font-size="12" fill="#e0128c" class="n">6</text>
<text transform="translate(453.90,405.30)" font-size="12" fill="#e0128c" class="n">8</text>
<text transform="translate(476.60,405.30) scale(1.017,1)" font-size="12" letter-spacing="0.10" fill="#e0128c" class="n">10</text>
<text transform="translate(516.80,405.30) scale(1.006,1)" font-size="12" letter-spacing="0.04" fill="#e0128c" class="n">15</text>
<text transform="translate(545.00,405.30) scale(1.067,1)" font-size="12" letter-spacing="0.39" fill="#e0128c" class="n">20</text>
<text transform="translate(569.00,405.30) scale(1.057,1)" font-size="12" letter-spacing="0.33" fill="#e0128c" class="n">25</text>
<text transform="translate(418.50,57.60) scale(1.120,1)" font-size="14.5" letter-spacing="1.25">Temperature</text>
<text transform="translate(417.38,70.47) scale(1.120,1)" font-size="14.5" letter-spacing="1.05">Dewpoint</text>
<text transform="translate(417.38,83.34) scale(1.120,1)" font-size="14.5" letter-spacing="1.14">Parcel</text>
<text transform="translate(480.02,83.34) scale(1.120,1)" font-size="14.5" letter-spacing="1.14">Trajectory</text>
<text transform="translate(417.38,96.21) scale(1.120,1)" font-size="14.5" letter-spacing="0.93">Dry</text>
<text transform="translate(456.07,96.21) scale(1.120,1)" font-size="14.5" letter-spacing="0.93">Adiabat</text>
<text transform="translate(418.50,109.08) scale(1.120,1)" font-size="14.5" letter-spacing="0.79">Wet</text>
<text transform="translate(459.32,109.08) scale(1.120,1)" font-size="14.5" letter-spacing="0.79">Adiabat</text>
<text transform="translate(417.38,121.95) scale(1.120,1)" font-size="14.5" letter-spacing="1.38">Isotherm</text>
<text transform="translate(417.38,134.82) scale(1.120,1)" font-size="14.5" letter-spacing="1.07">Mixing</text>
<text transform="translate(479.58,134.82) scale(1.120,1)" font-size="14.5" letter-spacing="1.07">Ratio</text>
<text transform="translate(731.29,251.00) scale(1.111,1)" font-size="15">K</text>
<text transform="translate(873.80,251.00) scale(1.150,1)" font-size="15">6</text>
<text transform="translate(732.40,272.60) scale(1.120,1)" font-size="15" letter-spacing="1.21">Totals</text>
<text transform="translate(794.50,272.60) scale(1.120,1)" font-size="15" letter-spacing="1.21">Totals</text>
<text transform="translate(873.80,272.60) scale(1.160,1)" font-size="15" letter-spacing="1.07">42</text>
<text transform="translate(731.28,294.40) scale(1.120,1)" font-size="15" letter-spacing="1.14">PW</text>
<text transform="translate(772.57,294.40) scale(1.120,1)" font-size="15" letter-spacing="1.14">(cm)</text>
<text transform="translate(874.29,294.40) scale(1.108,1)" font-size="15" letter-spacing="0.44">1.1</text>
<text transform="translate(732.40,342.00) scale(1.120,1)" font-size="15" letter-spacing="1.26">Temp</text>
<text transform="translate(789.33,342.00) scale(1.120,1)" font-size="15" letter-spacing="1.26">(°C)</text>
<text transform="translate(874.21,342.00) scale(1.187,1)" font-size="15" letter-spacing="0.71">13.2</text>
<text transform="translate(731.28,363.60) scale(1.120,1)" font-size="15" letter-spacing="0.91">Dewp</text>
<text transform="translate(788.90,363.60) scale(1.120,1)" font-size="15" letter-spacing="0.91">(°C)</text>
<text transform="translate(873.80,363.60) scale(1.187,1)" font-size="15" letter-spacing="0.78">2.4</text>
<text transform="translate(873.80,384.40) scale(1.194,1)" font-size="15" letter-spacing="0.97">297</text>
<text transform="translate(731.28,406.40) scale(1.120,1)" font-size="15" letter-spacing="1.14">Lifted</text>
<text transform="translate(789.25,406.40) scale(1.120,1)" font-size="15" letter-spacing="1.14">Index</text>
<text transform="translate(874.26,406.40) scale(1.144,1)" font-size="15" letter-spacing="0.91">12</text>
<text transform="translate(732.40,428.00) scale(1.090,1)" font-size="15" letter-spacing="0.44">CAPE</text>
<text transform="translate(790.37,428.00) scale(1.090,1)" font-size="15" letter-spacing="0.44">(J)</text>
<text transform="translate(873.80,428.00) scale(1.150,1)" font-size="15">0</text>
<text transform="translate(732.40,449.60) scale(1.120,1)" font-size="15" letter-spacing="0.54">CIN</text>
<text transform="translate(773.60,449.60) scale(1.120,1)" font-size="15" letter-spacing="0.54">(J)</text>
<text transform="translate(873.80,449.60) scale(1.150,1)" font-size="15">0</text>
<text transform="translate(731.28,496.60) scale(1.120,1)" font-size="15" letter-spacing="1.51">Pressure</text>
<text transform="translate(821.98,496.60) scale(1.120,1)" font-size="15" letter-spacing="1.51">(mb)</text>
<text transform="translate(873.80,496.60) scale(1.194,1)" font-size="15" letter-spacing="0.97">850</text>
<text transform="translate(873.80,518.00) scale(1.194,1)" font-size="15" letter-spacing="0.97">304</text>
<text transform="translate(731.28,539.40) scale(1.120,1)" font-size="15" letter-spacing="1.14">Lifted</text>
<text transform="translate(789.25,539.40) scale(1.120,1)" font-size="15" letter-spacing="1.14">Index</text>
<text transform="translate(873.80,539.40) scale(1.150,1)" font-size="15">8</text>
<text transform="translate(732.40,561.80) scale(1.090,1)" font-size="15" letter-spacing="0.44">CAPE</text>
<text transform="translate(790.37,561.80) scale(1.090,1)" font-size="15" letter-spacing="0.44">(J)</text>
<text transform="translate(873.80,561.80) scale(1.150,1)" font-size="15">0</text>
<text transform="translate(732.40,583.60) scale(1.120,1)" font-size="15" letter-spacing="0.54">CIN</text>
<text transform="translate(773.60,583.60) scale(1.120,1)" font-size="15" letter-spacing="0.54">(J)</text>
<text transform="translate(873.80,583.60) scale(1.150,1)" font-size="15">0</text>
<text transform="translate(731.31,630.20) scale(1.087,1)" font-size="15" letter-spacing="0.69">EH</text>
<text transform="translate(873.90,630.20) scale(1.286,1)" font-size="15" letter-spacing="1.91">−7</text>
<text transform="translate(732.40,652.00) scale(1.077,1)" font-size="15" letter-spacing="0.44">SREH</text>
<text transform="translate(872.68,652.00) scale(1.225,1)" font-size="15" letter-spacing="1.39">15</text>
<text transform="translate(732.40,673.40) scale(1.120,1)" font-size="15" letter-spacing="1.28">StmDir</text>
<text transform="translate(873.90,673.40) scale(1.188,1)" font-size="15" letter-spacing="0.79">317°</text>
<text transform="translate(732.40,695.20) scale(1.120,1)" font-size="15" letter-spacing="1.50">StmSpd</text>
<text transform="translate(812.19,695.20) scale(1.120,1)" font-size="15" letter-spacing="1.50">(kt)</text>
<text transform="translate(872.68,695.20) scale(1.225,1)" font-size="15" letter-spacing="1.39">12</text>
<text transform="translate(746.50,384.40) scale(1.120,1)" font-size="15" letter-spacing="2.28">(K)</text>
<text transform="translate(759.00,518.00) scale(1.120,1)" font-size="15" letter-spacing="1.34">(K)</text>
<text transform="translate(787.40,320.60) scale(1.120,1)" font-size="15" letter-spacing="1.20">Surface</text>
<text transform="translate(752.48,475.40) scale(1.120,1)" font-size="15" letter-spacing="1.05">Most</text>
<text transform="translate(804.23,475.40) scale(1.120,1)" font-size="15" letter-spacing="1.05">Unstable</text>
<text transform="translate(770.58,609.40) scale(1.120,1)" font-size="15" letter-spacing="1.31">Hodograph</text>
<text transform="translate(739.55,727.60) scale(1.149,1)" font-size="19.5" letter-spacing="0.59" class="c">weatheronline.co.uk</text>
<text transform="translate(608.73,609.80) scale(1.074,1)" font-size="15" letter-spacing="0.41" fill="#3a3a3a" class="n">LCL</text>
<text transform="translate(629.50,538.80) rotate(-90) scale(1.300,1)" font-size="16" letter-spacing="2.56" fill="#f9cce4" class="n">Mixing Ratio (g/kg)</text>
<text transform="translate(628.00,507.42) rotate(-90) scale(1.120,1)" font-size="15" letter-spacing="1.56">Mixing Ratio (g/kg)</text>

<path d="M591,144.7 H597" stroke="#000" stroke-width="1.2"/>
<path d="M591,220.2 H597" stroke="#000" stroke-width="1.2"/>
<path d="M591,292.9 H597" stroke="#000" stroke-width="1.2"/>
<path d="M591,363.5 H597" stroke="#000" stroke-width="1.2"/>
<path d="M591,432.4 H597" stroke="#000" stroke-width="1.2"/>
<path d="M591,500.2 H597" stroke="#000" stroke-width="1.2"/>
<path d="M591,565.8 H597" stroke="#000" stroke-width="1.2"/>
<path d="M591,629.4 H597" stroke="#000" stroke-width="1.2"/>
<path d="M591,603.5 H600" stroke="#555" stroke-width="1.2"/>
<text x="613" y="609.8" font-size="15" letter-spacing="2.3" fill="#c8c8c8" opacity="0.8">LCL</text>
<circle cx="723.2" cy="720.6" r="7.3" fill="none" stroke="#000" stroke-width="1.9"/>
<path d="M726.5,717.6 A4,4 0 1 0 726.5,723.6" fill="none" stroke="#000" stroke-width="1.7"/>
<text x="732" y="384.4" font-size="15" font-weight="bold" font-style="italic">θ</text><text x="741.2" y="385.9" font-size="7.5" font-weight="bold">E</text>
<text x="732" y="518.0" font-size="15" font-weight="bold" font-style="italic">θ</text><text x="741.2" y="519.5" font-size="7.5" font-weight="bold">E</text>
</svg></body></html>
